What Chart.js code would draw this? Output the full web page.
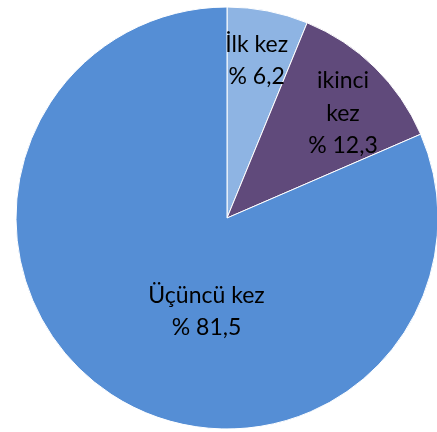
<!DOCTYPE html>
<html>
<head>
<meta charset="utf-8">
<script src="https://cdn.jsdelivr.net/npm/chart.js@4.4.0/dist/chart.umd.min.js"></script>
<style>
  html, body { margin: 0; padding: 0; background: #fff; overflow: hidden; }
  #wrap { position: absolute; left: 0; top: 0; width: 454px; height: 436px; }
</style>
</head>
<body>
<div id="wrap"><canvas id="pie" width="454" height="436"></canvas></div>
<script>
const labels = ["İlk kez", "ikinci kez", "Üçüncü kez"];
const values = [6.2, 12.3, 81.5];
const labelLines = [["İlk kez"], ["ikinci", "kez"], ["Üçüncü kez"]];
const colors = ["#8EB4E3", "#604A7B", "#558ED5"];

// per-slice label placement: fraction of radius + small angle shift (deg)
const labelPlace = [
  { ratio: 0.76, shift: -0.5 },
  { ratio: 0.74, shift: 3.5 },
  { ratio: 0.455, shift: -21 },
];

const sliceLabels = {
  id: "sliceLabels",
  afterDatasetsDraw(chart) {
    const ctx = chart.ctx;
    const meta = chart.getDatasetMeta(0);
    ctx.save();
    ctx.fillStyle = "#000";
    ctx.font = "23px Lato";
    ctx.textAlign = "center";
    ctx.textBaseline = "middle";
    meta.data.forEach((arc, i) => {
      const p = arc.getProps(["x", "y", "startAngle", "endAngle", "outerRadius"], true);
      const mid = (p.startAngle + p.endAngle) / 2 + labelPlace[i].shift * Math.PI / 180;
      const r = p.outerRadius * labelPlace[i].ratio;
      const cx = p.x + Math.cos(mid) * r;
      const cy = p.y + Math.sin(mid) * r;
      const lines = labelLines[i].concat(["% " + String(values[i]).replace(".", ",")]);
      const lh = 32.5;
      const top = cy - (lines.length - 1) * lh / 2;
      lines.forEach((t, k) => ctx.fillText(t, cx, top + k * lh));
    });
    ctx.restore();
  },
};

new Chart(document.getElementById("pie"), {
  type: "pie",
  data: {
    labels: labels,
    datasets: [{
      data: values,
      backgroundColor: colors,
      borderColor: "#fff",
      borderWidth: 1,
      hoverOffset: 0,
      radius: 211,
    }],
  },
  options: {
    responsive: false,
    animation: false,
    events: [],
    layout: { padding: 0 },
    plugins: {
      legend: { display: false },
      tooltip: { enabled: false },
    },
  },
  plugins: [sliceLabels],
});
</script>
</body>
</html>
